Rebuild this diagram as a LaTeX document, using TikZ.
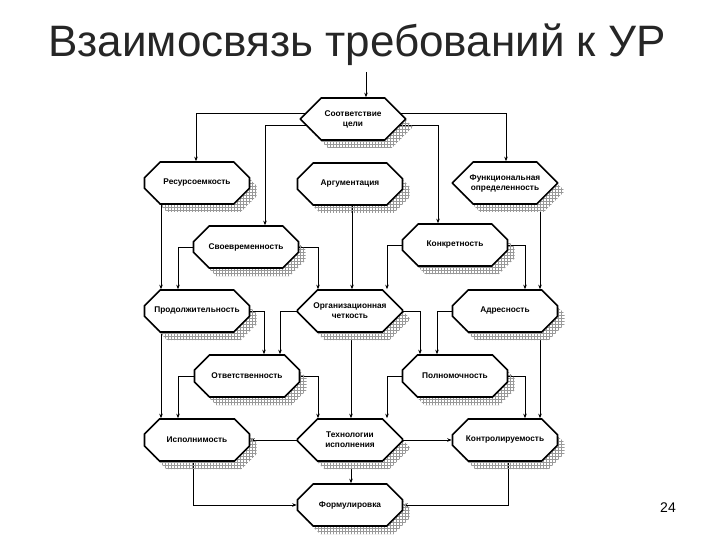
\documentclass[tikz,border=0pt]{standalone}
\usepackage{fontspec}
\setmainfont{Liberation Sans}
\usetikzlibrary{shapes.misc,shadows,patterns,arrows.meta,backgrounds}
\begin{document}
\begin{tikzpicture}[x=1pt,y=-1pt,
  box/.style={chamfered rectangle, chamfered rectangle xsep=11pt, chamfered rectangle ysep=11pt,
    draw=black, line width=1.6pt, fill=white, minimum width=105pt, minimum height=42pt,
    inner sep=1pt, align=center, font=\bfseries\fontsize{8.3}{10}\selectfont,
    general shadow={shadow xshift=7pt, shadow yshift=-8pt, draw=none, pattern=grid, pattern color=gray!80}},
  arr/.style={-{Stealth[length=4.5pt,width=3.5pt]}, line width=0.8pt}]
\useasboundingbox (0,0) rectangle (720,540);
\node[font=\fontsize{44}{48}\selectfont, text=black!85] (title) at (357,45) {Взаимосвязь требований к УР};
\node[font=\fontsize{14}{16}\selectfont] (pg) at (668,508) {24};
\coordinate (ts) at (366,72);
\node[box] (c) at (353,119) {Соответствие\\цели};
\node[box] (r) at (197,183) {Ресурсоемкость};
\node[box] (a) at (350,184) {Аргументация};
\node[box] (f) at (505,183) {Функциональная\\определенность};
\node[box] (s) at (246,247) {Своевременность};
\node[box] (k) at (455,245) {Конкретность};
\node[box] (p) at (197,311) {Продолжительность};
\node[box] (o) at (350,311) {Организационная\\четкость};
\node[box] (ad) at (505,311) {Адресность};
\node[box] (ot) at (247,376) {Ответственность};
\node[box] (pol) at (455,376) {Полномочность};
\node[box] (isp) at (197,440) {Исполнимость};
\node[box] (t) at (350,440) {Технологии\\исполнения};
\node[box] (kon) at (505,440) {Контролируемость};
\node[box] (form) at (350,505) {Формулировка};
\begin{scope}[on background layer]
\draw[arr] (ts) -- (ts |- c.north);
\draw[arr] ([yshift=6pt]c.center) -| ([xshift=-1pt]r.north);
\draw[arr] ([yshift=6pt]c.center) -| ([xshift=1pt]f.north);
\draw[arr] ([yshift=-6pt]c.center) -| ([xshift=19pt]s.north);
\draw[arr] ([yshift=-6pt]c.center) -| ([xshift=-17pt]k.north);
\draw[arr] ([xshift=-36pt]r.center) -- ([xshift=-36pt]p.north);
\draw[arr] (s.center) -| ([xshift=-19pt]p.north);
\draw[arr] (s.center) -| ([xshift=-32pt]o.north);
\draw[arr] ([xshift=2pt]a.center) -- ([xshift=2pt]o.north);
\draw[arr] (k.center) -| ([xshift=37pt]o.north);
\draw[arr] (k.center) -| ([xshift=20pt]ad.north);
\draw[arr] ([xshift=35pt]f.center) -- ([xshift=35pt]ad.north);
\draw[arr] (p.center) -| ([xshift=17pt]ot.north);
\draw[arr] ([xshift=-36pt]p.center) -- ([xshift=-36pt]isp.north);
\draw[arr] (o.center) -| ([xshift=33pt]ot.north);
\draw[arr] (o.center) -| ([xshift=-35pt]pol.north);
\draw[arr] ([xshift=1pt]o.center) -- ([xshift=1pt]t.north);
\draw[arr] (ad.center) -| ([xshift=-18pt]pol.north);
\draw[arr] ([xshift=35pt]ad.center) -- ([xshift=35pt]kon.north);
\draw[arr] (ot.center) -| ([xshift=-19pt]isp.north);
\draw[arr] (ot.center) -| ([xshift=-32pt]t.north);
\draw[arr] (pol.center) -| ([xshift=37pt]t.north);
\draw[arr] (pol.center) -| ([xshift=20pt]kon.north);
\draw[arr] (t.center) -- (isp.east);
\draw[arr] (t.center) -- (kon.west);
\draw[arr] ([xshift=1pt]t.center) -- ([xshift=1pt]form.north);
\draw[arr] ([xshift=-4pt]isp.center) |- (form.west);
\draw[arr] ([xshift=3pt]kon.center) |- (form.east);
\end{scope}
\end{tikzpicture}
\end{document}
